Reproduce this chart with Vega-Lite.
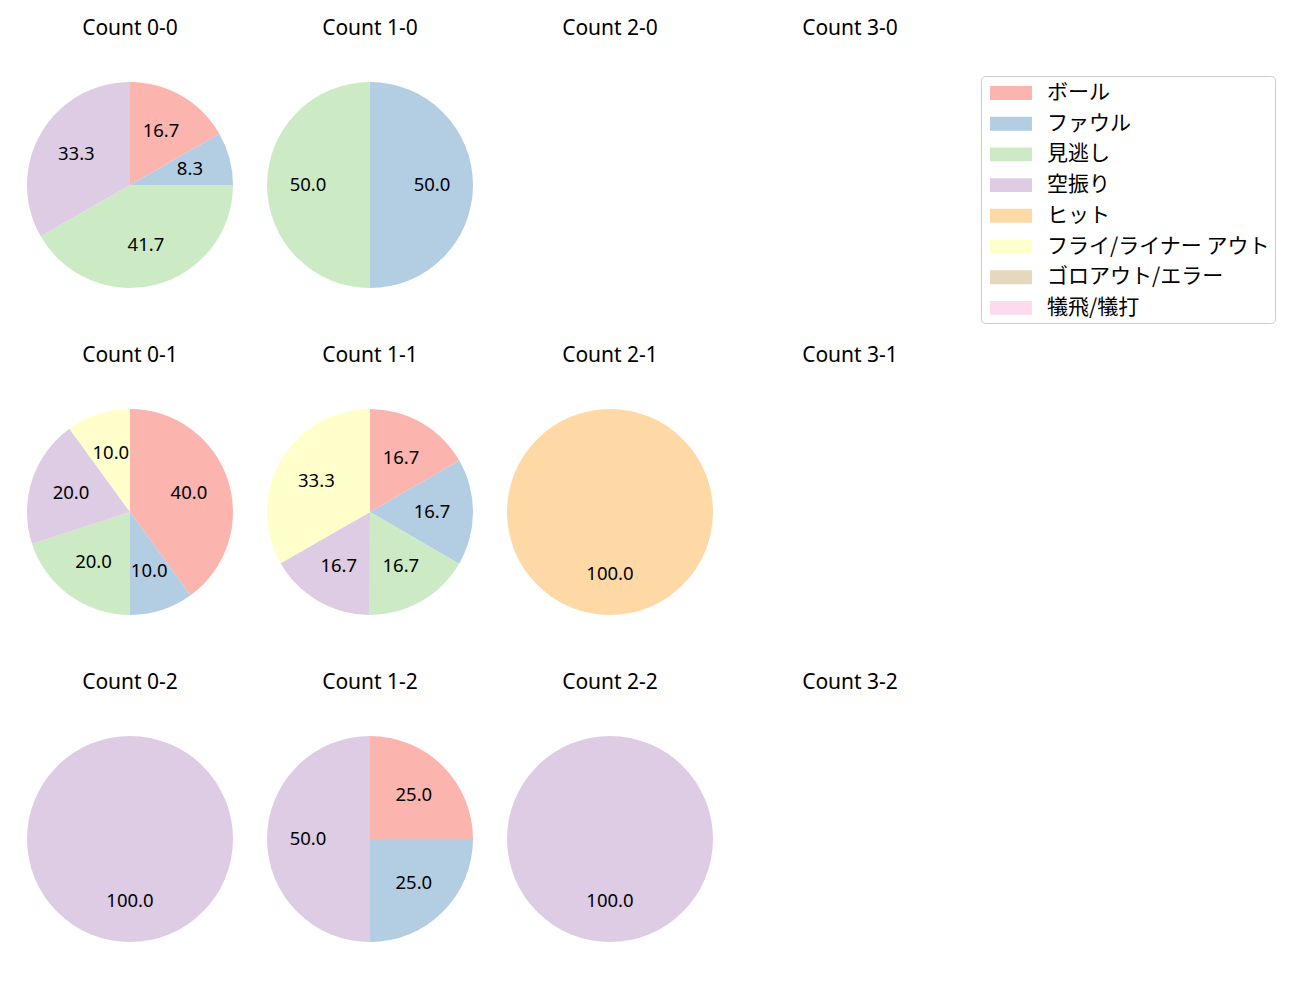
{
  "$schema": "https://vega.github.io/schema/vega-lite/v6.json",
  "padding": {"left": 27, "top": 18, "right": 5, "bottom": 5},
  "background": "white",
  "config": {"view": {"stroke": null}, "font": "Noto Sans"},
  "data": {"values": [
    {"panel": "Count 0-0", "cat": "ボール", "pct": 16.7, "k": 0},
    {"panel": "Count 0-0", "cat": "ファウル", "pct": 8.3, "k": 1},
    {"panel": "Count 0-0", "cat": "見逃し", "pct": 41.7, "k": 2},
    {"panel": "Count 0-0", "cat": "空振り", "pct": 33.3, "k": 3},
    {"panel": "Count 1-0", "cat": "ファウル", "pct": 50.0, "k": 1},
    {"panel": "Count 1-0", "cat": "見逃し", "pct": 50.0, "k": 2},
    {"panel": "Count 2-0", "cat": "ボール", "pct": 0, "k": 0},
    {"panel": "Count 3-0", "cat": "ボール", "pct": 0, "k": 0},
    {"panel": "Count 0-1", "cat": "ボール", "pct": 40.0, "k": 0},
    {"panel": "Count 0-1", "cat": "ファウル", "pct": 10.0, "k": 1},
    {"panel": "Count 0-1", "cat": "見逃し", "pct": 20.0, "k": 2},
    {"panel": "Count 0-1", "cat": "空振り", "pct": 20.0, "k": 3},
    {"panel": "Count 0-1", "cat": "フライ/ライナー アウト", "pct": 10.0, "k": 5},
    {"panel": "Count 1-1", "cat": "ボール", "pct": 16.7, "k": 0},
    {"panel": "Count 1-1", "cat": "ファウル", "pct": 16.7, "k": 1},
    {"panel": "Count 1-1", "cat": "見逃し", "pct": 16.7, "k": 2},
    {"panel": "Count 1-1", "cat": "空振り", "pct": 16.7, "k": 3},
    {"panel": "Count 1-1", "cat": "フライ/ライナー アウト", "pct": 33.3, "k": 5},
    {"panel": "Count 2-1", "cat": "ヒット", "pct": 100.0, "k": 4},
    {"panel": "Count 3-1", "cat": "ボール", "pct": 0, "k": 0},
    {"panel": "Count 0-2", "cat": "空振り", "pct": 100.0, "k": 3},
    {"panel": "Count 1-2", "cat": "ボール", "pct": 25.0, "k": 0},
    {"panel": "Count 1-2", "cat": "ファウル", "pct": 25.0, "k": 1},
    {"panel": "Count 1-2", "cat": "空振り", "pct": 50.0, "k": 3},
    {"panel": "Count 2-2", "cat": "空振り", "pct": 100.0, "k": 3},
    {"panel": "Count 3-2", "cat": "ボール", "pct": 0, "k": 0}
  ]},
  "facet": {
    "field": "panel",
    "type": "nominal",
    "sort": ["Count 0-0", "Count 1-0", "Count 2-0", "Count 3-0", "Count 0-1", "Count 1-1", "Count 2-1", "Count 3-1", "Count 0-2", "Count 1-2", "Count 2-2", "Count 3-2"],
    "header": {"title": null, "labelFontSize": 21, "labelPadding": 43, "labelColor": "black", "labelFont": "Noto Sans"}
  },
  "columns": 4,
  "spacing": {"column": 34, "row": 57},
  "resolve": {"scale": {"theta": "independent"}},
  "spec": {
    "width": 206,
    "height": 206,
    "layer": [
      {
        "mark": {"type": "arc"},
        "encoding": {
          "theta": {"field": "pct", "type": "quantitative", "stack": true},
          "order": {"field": "k", "type": "quantitative"},
          "color": {
            "field": "cat",
            "type": "nominal",
            "scale": {
              "domain": ["ボール", "ファウル", "見逃し", "空振り", "ヒット", "フライ/ライナー アウト", "ゴロアウト/エラー", "犠飛/犠打"],
              "range": ["#fbb4ae", "#b3cde3", "#ccebc5", "#decbe4", "#fed9a6", "#ffffcc", "#e5d8bd", "#fddaec"]
            },
            "legend": {
              "title": null,
              "orient": "none",
              "legendX": 954,
              "legendY": -6,
              "labelFontSize": 21,
              "labelFont": "Noto Sans CJK JP",
              "labelColor": "black",
              "labelLimit": 400,
              "symbolType": "M-0.67,-0.58H2.83V0.58H-0.67Z",
              "symbolSize": 576,
              "symbolStrokeWidth": 0,
              "labelOffset": 37,
              "rowPadding": 8.7,
              "padding": 5,
              "strokeColor": "#cccccc",
              "cornerRadius": 4,
              "fillColor": "white"
            }
          }
        }
      },
      {
        "transform": [{"filter": "datum.pct > 0"}],
        "mark": {"type": "text", "radius": 62, "fontSize": 18.5, "color": "black", "font": "Noto Sans"},
        "encoding": {
          "theta": {"field": "pct", "type": "quantitative", "stack": true},
          "order": {"field": "k", "type": "quantitative"},
          "text": {"field": "pct", "type": "quantitative", "format": ".1f"}
        }
      }
    ]
  }
}
